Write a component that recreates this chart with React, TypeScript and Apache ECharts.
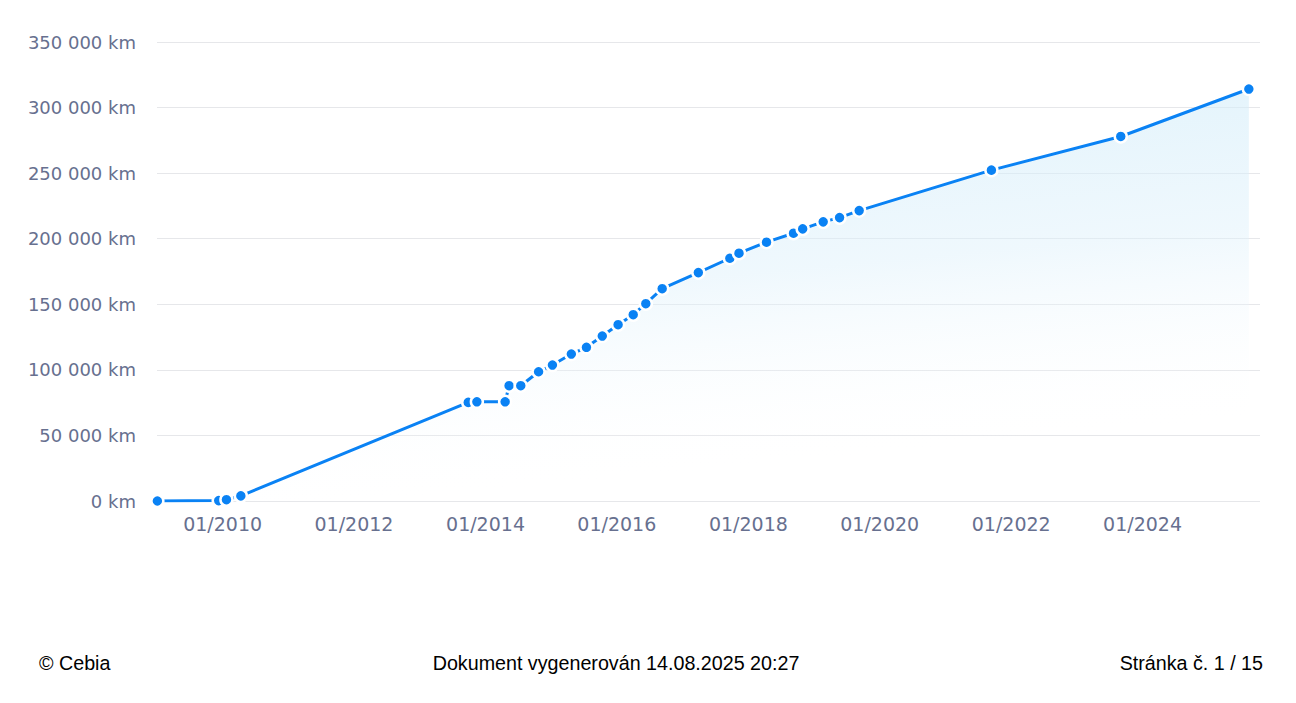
import React, { useEffect, useRef } from "react";
import * as echarts from "echarts";

const dates: string[] = [
  "2009-01-03", "2009-12-10", "2010-01-22", "2010-04-12", "2013-09-27", "2013-11-14",
  "2014-04-20", "2014-05-12", "2014-07-16", "2014-10-23", "2015-01-08", "2015-04-23",
  "2015-07-16", "2015-10-12", "2016-01-08", "2016-04-01", "2016-06-10", "2016-09-09",
  "2017-03-29", "2017-09-20", "2017-11-10", "2018-04-12", "2018-09-09", "2018-10-30",
  "2019-02-21", "2019-05-23", "2019-09-09", "2021-09-13", "2023-09-02", "2025-08-14",
];
const mileage: number[] = [
  0, 300, 1000, 3900, 75200, 75650,
  75650, 87900, 87900, 98550, 103650, 112050,
  117200, 125800, 134450, 142050, 150450, 161900,
  174150, 185100, 188950, 197350, 204200, 207500,
  212850, 216100, 221450, 252300, 277950, 314150,
];
const xTickYears: number[] = [2010, 2012, 2014, 2016, 2018, 2020, 2022, 2024];
const yTicks: number[] = [0, 50000, 100000, 150000, 200000, 250000, 300000, 350000];
const footerLeft = "© Cebia";
const footerCenter = "Dokument vygenerován 14.08.2025 20:27";
const footerRight = "Stránka č. 1 / 15";

const fmtKm = (v: number) =>
  String(Math.round(v)).replace(/\B(?=(\d{3})+(?!\d))/g, " ") + " km";

export default function App() {
  const ref = useRef<HTMLDivElement>(null);
  useEffect(() => {
    if (!ref.current) return;
    const chart = echarts.init(ref.current, null, { renderer: "svg" });
    const blue = "#0a82f4";
    const data = dates.map((d, i) => [new Date(d + "T00:00:00Z").getTime(), mileage[i]]);
    const xTicks = xTickYears.map((y) => Date.UTC(y, 0, 1));
    chart.setOption({
      animation: false,
      grid: { left: 157, right: 36, top: 42, bottom: 202, containLabel: false },
      xAxis: {
        type: "value",
        min: Date.UTC(2009, 0, 1),
        max: Date.UTC(2025, 9, 15),
        axisLine: { show: false },
        axisTick: { show: false },
        splitLine: { show: false },
        axisLabel: {
          customValues: xTicks,
          margin: 13,
          color: "#67708f",
          fontFamily: "DejaVu Sans",
          fontSize: 19,
          formatter: (v: number) => {
            const d = new Date(v);
            const m = String(d.getUTCMonth() + 1).padStart(2, "0");
            return m + "/" + d.getUTCFullYear();
          },
        },
      },
      yAxis: {
        type: "value",
        min: 0,
        max: 350000,
        interval: 50000,
        axisLine: { show: false },
        axisTick: { show: false },
        splitLine: { lineStyle: { color: "#e6e7ea", width: 1 } },
        axisLabel: {
          margin: 21,
          color: "#67708f",
          fontFamily: "DejaVu Sans",
          fontSize: 18,
          formatter: (v: number) => (yTicks.includes(v) ? fmtKm(v) : ""),
        },
      },
      series: [
        {
          type: "line",
          data,
          showAllSymbol: true,
          symbol: "circle",
          symbolSize: 12,
          lineStyle: { color: blue, width: 3 },
          itemStyle: { color: blue, borderColor: "#ffffff", borderWidth: 2.5 },
          areaStyle: {
            color: new echarts.graphic.LinearGradient(0, 0, 0.25, 1, [
              { offset: 0, color: "rgba(205,235,249,1)" },
              { offset: 0.55, color: "rgba(220,240,251,0.65)" },
              { offset: 1, color: "rgba(255,255,255,0)" },
            ]),
          },
        },
      ],
      graphic: [
        {
          type: "text",
          x: 39,
          y: 663,
          style: {
            text: footerLeft,
            fontFamily: "Liberation Sans",
            fontSize: 19.7,
            fill: "#000",
            textVerticalAlign: "middle",
          },
        },
        {
          type: "text",
          x: 616,
          y: 663,
          style: {
            text: footerCenter,
            fontFamily: "Liberation Sans",
            fontSize: 19.7,
            fill: "#000",
            textAlign: "center",
            textVerticalAlign: "middle",
          },
        },
        {
          type: "text",
          x: 1263,
          y: 663,
          style: {
            text: footerRight,
            fontFamily: "Liberation Sans",
            fontSize: 19.7,
            fill: "#000",
            textAlign: "right",
            textVerticalAlign: "middle",
          },
        },
      ],
    });
    return () => chart.dispose();
  }, []);
  return (
    <div
      ref={ref}
      style={{ position: "fixed", left: 0, top: 0, width: 1296, height: 703, background: "#fff" }}
    />
  );
}
